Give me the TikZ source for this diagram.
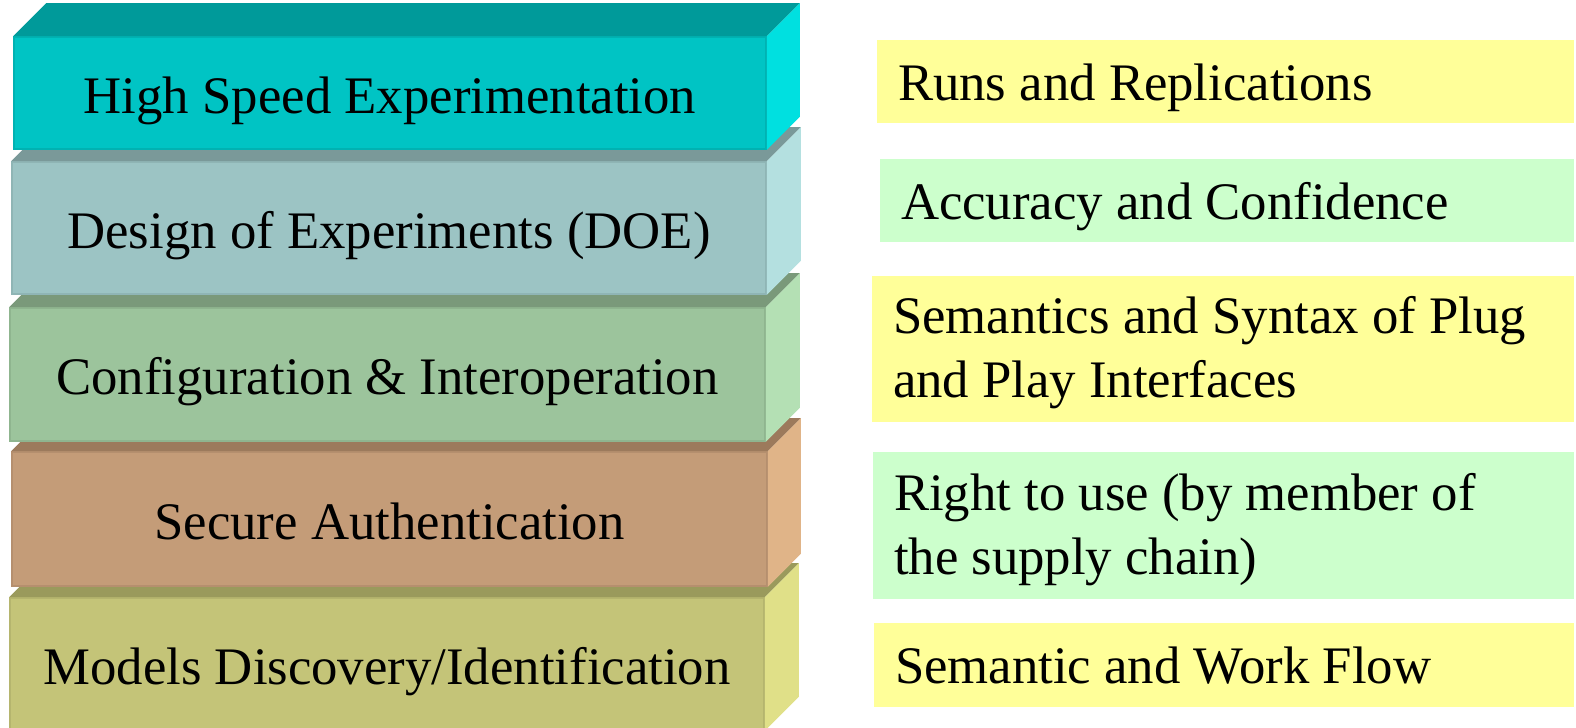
\documentclass[tikz,border=0pt]{standalone}
\usepackage{fontspec}
\setmainfont{Liberation Serif}
\usetikzlibrary{fit}

% slab colours: front, top, side, edge
\definecolor{aF}{HTML}{00C4C4}\definecolor{aT}{HTML}{009A9A}\definecolor{aS}{HTML}{00E0E0}\definecolor{aE}{HTML}{00B2B2}
\definecolor{bF}{HTML}{9CC4C4}\definecolor{bT}{HTML}{7A9999}\definecolor{bS}{HTML}{B4E0E0}\definecolor{bE}{HTML}{8FB5B5}
\definecolor{cF}{HTML}{9CC49C}\definecolor{cT}{HTML}{7A997A}\definecolor{cS}{HTML}{B4E0B4}\definecolor{cE}{HTML}{8FB58F}
\definecolor{dF}{HTML}{C49C78}\definecolor{dT}{HTML}{9C7A5C}\definecolor{dS}{HTML}{E0B488}\definecolor{dE}{HTML}{B58F6E}
\definecolor{eF}{HTML}{C4C478}\definecolor{eT}{HTML}{9A9A5C}\definecolor{eS}{HTML}{E0E088}\definecolor{eE}{HTML}{B5B56E}
\definecolor{noteyellow}{HTML}{FFFF99}
\definecolor{notegreen}{HTML}{CCFFCC}

% one slab of the stack: name, x0, y0, x1, y1 (front face), depth, colour stem, label
\newcommand\slab[8]{%
  \node[face, fit={(#2,#3) (#4,#5)}, fill=#7F, draw=#7E] (#1) {};
  \fill[#7T] (#1.north west) -- ++(#6,-#6) -- ([shift={(#6,-#6)}]#1.north east) -- (#1.north east) -- cycle;
  \fill[#7S] (#1.north east) -- ++(#6,-#6) -- ([shift={(#6,-#6)}]#1.south east) -- (#1.south east) -- cycle;
  \node[slabtext] (#1-text) at ([yshift=-0.2cm]#1.center) {#8};
}

% one note on the right: name, x0, y0, x1, y1, colour, baseline of last line below top, text
\newcommand\note[8]{%
  \node[notebox, fit={(#2,#3) (#4,#5)}, fill=#6] (#1) {};
  \node[notetext] (#1-text) at ([shift={(21,#7)}]#1.north west) {#8};
}

\begin{document}
\begin{tikzpicture}[x=0.01cm, y=-0.01cm,
  face/.style={inner sep=0pt, line width=0.015cm},
  slabtext/.style={anchor=base, inner sep=0pt, font=\fontsize{15}{18}\selectfont},
  notebox/.style={inner sep=0pt},
  notetext/.style={anchor=base west, inner sep=0pt, align=left,
                   font=\fontsize{15}{18.1}\selectfont},
]
\useasboundingbox (0,0) rectangle (1576,728);

% stack of slabs, bottom one first so upper slabs overlap it
\slab{models}{10}{598}{764}{730}{34}{e}{Models Discovery/Identification}
\slab{secure}{12}{452}{767}{586}{33}{d}{Secure Authentication}
\slab{config}{10}{308}{765}{441}{34}{c}{Configuration \& Interoperation}
\slab{doe}{12}{162}{766}{294}{34}{b}{Design of Experiments (DOE)}
\slab{speed}{14}{37}{766}{149}{33}{a}{High Speed Experimentation}

% notes on the right
\note{runs}{877}{40}{1574}{123}{noteyellow}{61}{Runs and Replications}
\note{accuracy}{880}{159}{1574}{242}{notegreen}{61}{Accuracy and Confidence}
\note{syntax}{872}{276}{1574}{422}{noteyellow}{122}{Semantics and Syntax of Plug\\and Play Interfaces}
\note{right}{873}{452}{1574}{599}{notegreen}{123}{Right to use (by member of\\the supply chain)}
\note{flow}{874}{623}{1574}{707}{noteyellow}{61}{Semantic and Work Flow}
\end{tikzpicture}
\end{document}
